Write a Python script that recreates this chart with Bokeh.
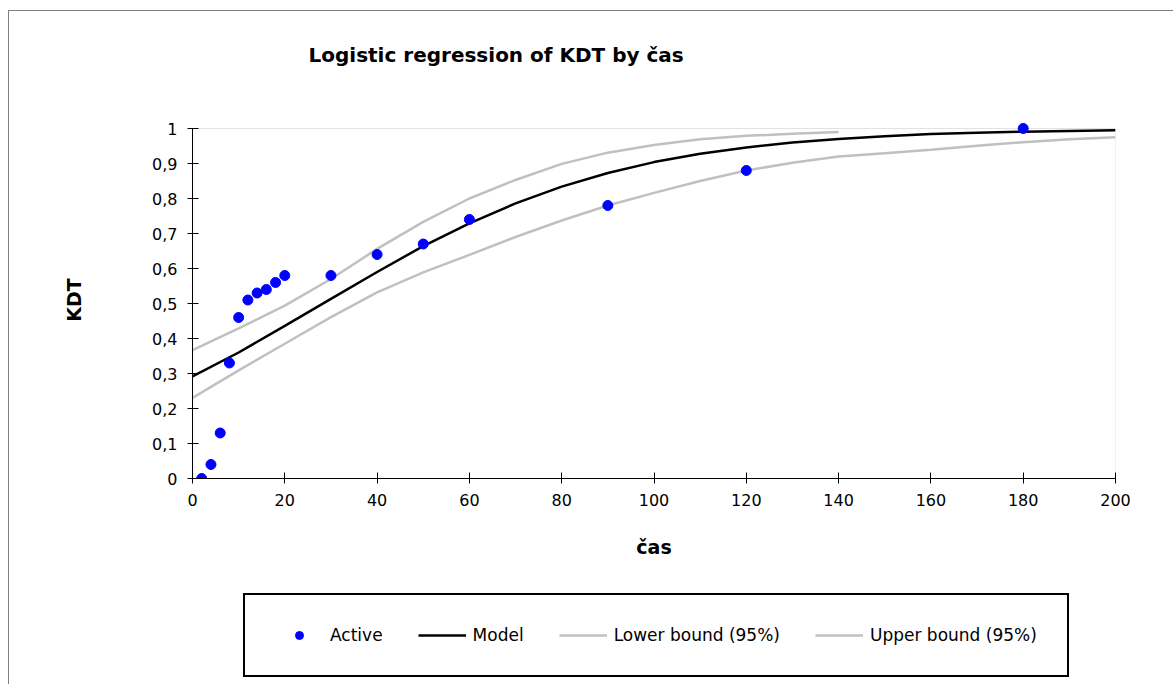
from bokeh.plotting import figure
from bokeh.layouts import column
from bokeh.models import Range1d, FixedTicker, Legend, LegendItem, BoxAnnotation, Title
from bokeh.embed import file_html
from bokeh.resources import INLINE

# ---- data ----
cas = [2, 4, 6, 8, 10, 12, 14, 16, 18, 20, 30, 40, 50, 60, 90, 120, 180]
kdt = [0.0, 0.04, 0.13, 0.33, 0.46, 0.51, 0.53, 0.54, 0.56, 0.58, 0.58, 0.64, 0.67, 0.74, 0.78, 0.88, 1.0]

curve_x = [0, 10, 20, 30, 40, 50, 60, 70, 80, 90, 100, 110, 120, 130, 140, 150, 160, 170, 180, 190, 200]
model = [0.292, 0.36, 0.436, 0.513, 0.59, 0.664, 0.729, 0.786, 0.834, 0.873, 0.904, 0.928, 0.946,
         0.96, 0.97, 0.978, 0.984, 0.988, 0.991, 0.993, 0.995]
lower = [0.23, 0.309, 0.385, 0.461, 0.532, 0.589, 0.639, 0.69, 0.737, 0.78, 0.816, 0.85, 0.88,
         0.902, 0.92, 0.929, 0.939, 0.951, 0.961, 0.969, 0.975]
upper_x = [0, 10, 20, 30, 40, 50, 60, 70, 80, 90, 100, 110, 120, 130, 140]
upper = [0.367, 0.429, 0.494, 0.57, 0.656, 0.733, 0.8, 0.853, 0.899, 0.931, 0.953, 0.969, 0.979, 0.985, 0.99]

x_ticks = [0, 20, 40, 60, 80, 100, 120, 140, 160, 180, 200]
y_ticks = [0, 0.1, 0.2, 0.3, 0.4, 0.5, 0.6, 0.7, 0.8, 0.9, 1.0]
y_tick_labels = ["0", "0,1", "0,2", "0,3", "0,4", "0,5", "0,6", "0,7", "0,8", "0,9", "1"]

x_min, x_max = 0, 200
y_min, y_max = 0, 1
y_pad = 0.02

FONT = "DejaVu Sans"
GRAY = "#c0c0c0"

# ---------------- main chart ----------------
p = figure(width=1173, height=586, output_backend="svg", toolbar_location=None, tools="",
           x_range=Range1d(x_min, x_max), y_range=Range1d(y_min, y_max + y_pad),
           min_border_left=192, min_border_right=58, min_border_top=121, min_border_bottom=108)
p.title = None
p.background_fill_color = "white"
p.border_fill_color = None
p.outline_line_color = None
p.xgrid.visible = False
p.ygrid.visible = False

# blank spacer between the plot area and the chart title, then the title itself
p.add_layout(Title(text=" ", text_font=FONT, text_font_size="16px", standoff=34), "above")
p.add_layout(Title(text="Logistic regression of KDT by čas", align="left", offset=116, standoff=0,
                   text_font=FONT, text_font_style="bold", text_font_size="20px",
                   text_color="black"), "above")

# plot area border (gray top/right)
p.add_layout(BoxAnnotation(left=x_min, right=x_max, bottom=y_min, top=y_max,
                           fill_color=None, line_color="#a0a0a0", line_width=1, level="underlay"))

xa = p.xaxis[0]
xa.ticker = FixedTicker(ticks=x_ticks)
xa.axis_label = "čas"
xa.axis_label_text_font = FONT
xa.axis_label_text_font_style = "bold"
xa.axis_label_text_font_size = "19px"
xa.axis_label_text_color = "black"
xa.axis_label_standoff = 27
xa.major_label_text_font = FONT
xa.major_label_text_font_size = "16px"
xa.major_label_text_color = "black"
xa.major_label_standoff = 10
xa.major_tick_in = 6
xa.major_tick_out = 5
xa.minor_tick_in = 0
xa.minor_tick_out = 0
xa.axis_line_color = "black"
xa.major_tick_line_color = "black"

ya = p.yaxis[0]
ya.ticker = FixedTicker(ticks=y_ticks)
ya.major_label_overrides = {t: lab for t, lab in zip(y_ticks, y_tick_labels)}
ya.bounds = (y_min, y_max)
ya.axis_label = "KDT"
ya.axis_label_text_font = FONT
ya.axis_label_text_font_style = "bold"
ya.axis_label_text_font_size = "19px"
ya.axis_label_text_color = "black"
ya.axis_label_standoff = 64
ya.major_label_text_font = FONT
ya.major_label_text_font_size = "16px"
ya.major_label_text_color = "black"
ya.major_label_standoff = 10
ya.major_tick_in = 6
ya.major_tick_out = 5
ya.minor_tick_in = 0
ya.minor_tick_out = 0
ya.axis_line_color = "black"
ya.major_tick_line_color = "black"

p.line(curve_x, lower, line_color=GRAY, line_width=2.5)
p.line(upper_x, upper, line_color=GRAY, line_width=2.5)
p.line(curve_x, model, line_color="black", line_width=2.5)
p.scatter(cas, kdt, size=10, fill_color="#0000ff", line_color="#0000ff")

# ---------------- legend strip ----------------
q = figure(width=1173, height=98, output_backend="svg", toolbar_location=None, tools="",
           x_range=Range1d(x_min, x_max), y_range=Range1d(y_min, y_max),
           x_axis_location=None, y_axis_location=None,
           min_border_left=0, min_border_right=0, min_border_top=0, min_border_bottom=0)
q.background_fill_color = None
q.border_fill_color = None
q.outline_line_color = None
q.xgrid.visible = False
q.ygrid.visible = False

g_active = q.scatter(cas, kdt, size=10, fill_color="#0000ff", line_color="#0000ff", visible=False)
g_model = q.line(curve_x, model, line_color="black", line_width=2.5, visible=False)
g_lower = q.line(curve_x, lower, line_color=GRAY, line_width=2.5, visible=False)
g_upper = q.line(upper_x, upper, line_color=GRAY, line_width=2.5, visible=False)

legend = Legend(items=[LegendItem(label="Active", renderers=[g_active]),
                       LegendItem(label="Model", renderers=[g_model]),
                       LegendItem(label="Lower bound (95%)", renderers=[g_lower]),
                       LegendItem(label="Upper bound (95%)", renderers=[g_upper])],
                orientation="horizontal", location=(51, 7), spacing=35,
                glyph_width=48, glyph_height=20, label_standoff=7, padding=30, margin=0,
                border_line_color="black", border_line_width=2, border_line_alpha=1,
                background_fill_color="white", background_fill_alpha=1,
                label_text_font=FONT, label_text_font_size="17px", label_text_color="black")
q.add_layout(legend)

page = column(p, q, spacing=0)
# outer chart border (only its left and top edges fall inside the window)
page.styles = {"box-shadow": "inset 8px 0 0 0 white, inset 0 10px 0 0 white, "
                             "inset 9px 0 0 0 #7f7f7f, inset 0 11px 0 0 #7f7f7f"}

open("out.html", "w").write(file_html(page, INLINE))
